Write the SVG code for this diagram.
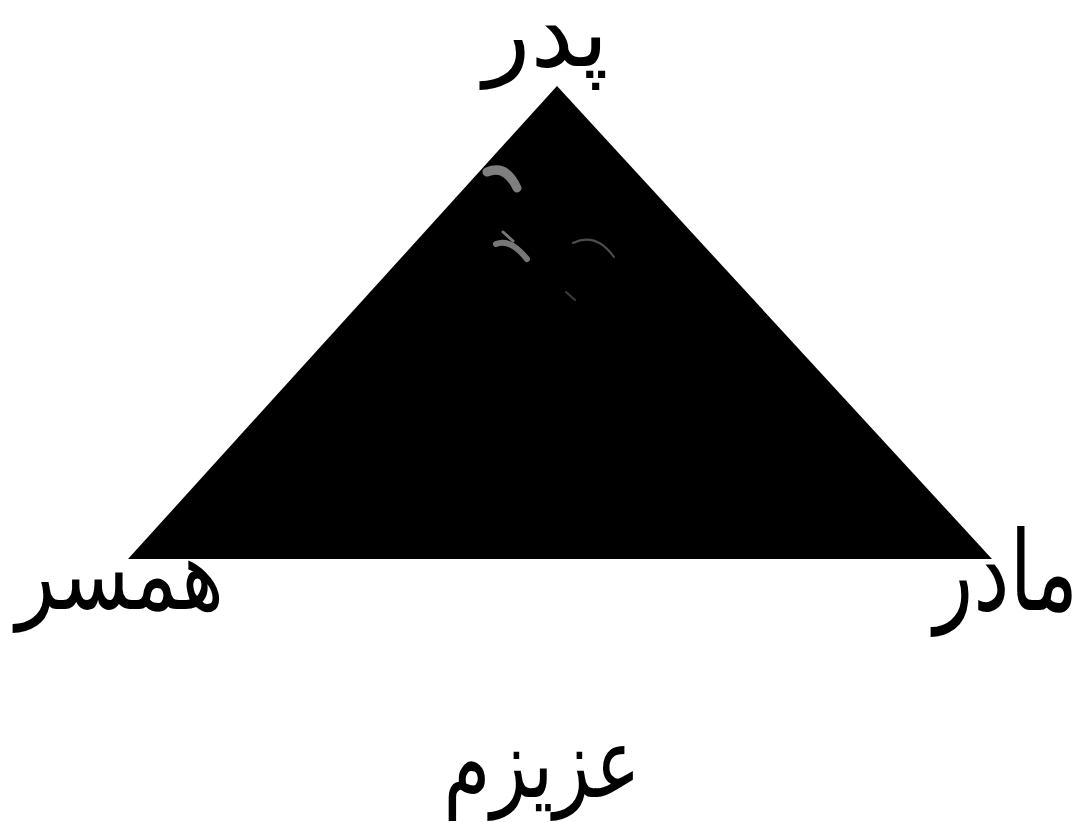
<svg xmlns="http://www.w3.org/2000/svg" width="1086" height="822" viewBox="0 0 1086 822">
<style>
.lbl{font-family:"DejaVu Sans",sans-serif;fill:#000;direction:rtl;unicode-bidi:embed;text-anchor:middle}
</style>
<rect width="1086" height="822" fill="#ffffff"/>
<g id="triangle">
<polygon points="557,86 128,559 992,559" fill="#000"/>
<g id="highlights" fill="none" stroke="#aaaaaa" stroke-linecap="round">
<path d="M487,172 Q506,164 517,188" stroke-width="9" opacity="0.75"/>
<path d="M496,244 Q510,238 527,259" stroke-width="6" opacity="0.7"/>
<path d="M503,232 L513,241" stroke-width="3" opacity="0.7"/>
<path d="M573,243 Q596,232 614,257" stroke-width="2" opacity="0.45"/>
<path d="M566,292 L575,300" stroke-width="2" opacity="0.35"/>
</g>
</g>
<g id="node-father"><text class="lbl" x="546" y="66" font-size="98" textLength="125" lengthAdjust="spacingAndGlyphs">پدر</text></g>
<g id="node-spouse"><text class="lbl" x="120" y="609" font-size="100" textLength="208" lengthAdjust="spacingAndGlyphs">همسر</text></g>
<g id="node-mother"><text class="lbl" x="1006" y="610" font-size="110" textLength="144" lengthAdjust="spacingAndGlyphs">مادر</text></g>
<g id="node-dear"><text class="lbl" x="542" y="797" font-size="98" textLength="197" lengthAdjust="spacingAndGlyphs">عزیزم</text></g>
<g id="connectors"/>
</svg>
